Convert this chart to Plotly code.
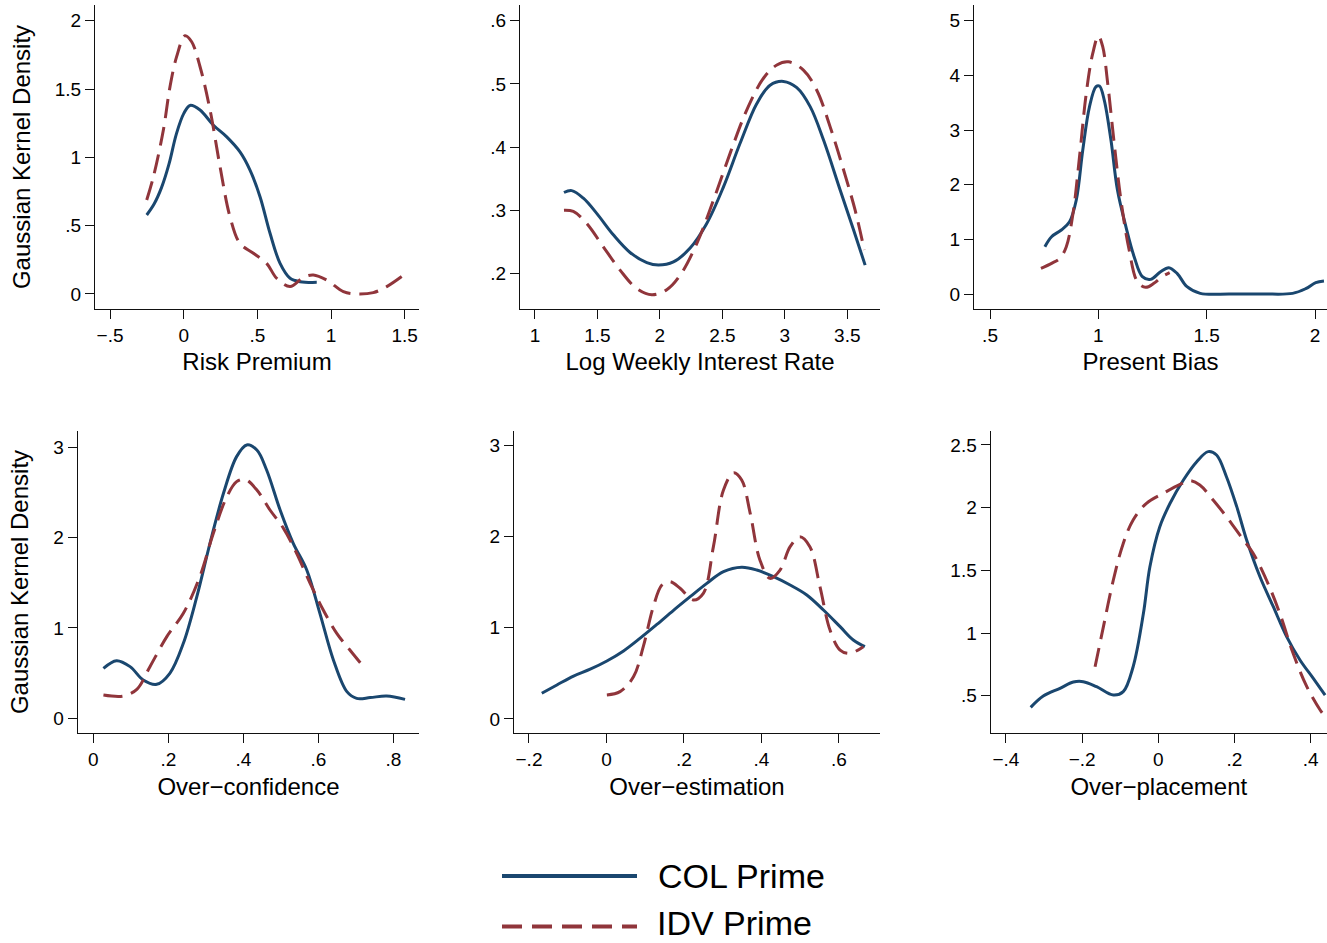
import plotly.graph_objects as go

W, H = 1327, 943
BLUE = "#1a476f"
RED = "#90353b"
FONT = "Liberation Sans, Arial, Helvetica, sans-serif"
AXC = "#111111"

# ---------------- data ----------------
# Risk Premium
rp_col_x = [-0.251, -0.2, -0.15, -0.1, -0.05, 0.0, 0.043, 0.111, 0.2, 0.292, 0.382, 0.45, 0.518, 0.586, 0.654, 0.722, 0.79, 0.903]
rp_col_y = [0.578, 0.66, 0.78, 0.95, 1.17, 1.32, 1.38, 1.346, 1.237, 1.15, 1.04, 0.907, 0.712, 0.444, 0.224, 0.115, 0.09, 0.085]
rp_idv_x = [-0.251, -0.206, -0.138, -0.093, -0.048, 0.009, 0.054, 0.111, 0.179, 0.247, 0.314, 0.382, 0.473, 0.563, 0.631, 0.722, 0.812, 0.88, 0.97, 1.084, 1.174, 1.287, 1.378, 1.491]
rp_idv_y = [0.688, 0.856, 1.2, 1.517, 1.737, 1.89, 1.846, 1.663, 1.346, 0.93, 0.566, 0.37, 0.298, 0.224, 0.115, 0.054, 0.122, 0.139, 0.102, 0.017, 0.0, 0.01, 0.054, 0.137]

# Log Weekly Interest Rate
ir_col_x = [1.232, 1.294, 1.387, 1.494, 1.627, 1.761, 1.895, 1.988, 2.108, 2.242, 2.375, 2.509, 2.642, 2.776, 2.882, 2.989, 3.096, 3.203, 3.31, 3.443, 3.55, 3.643]
ir_col_y = [0.328, 0.331, 0.319, 0.295, 0.261, 0.233, 0.217, 0.213, 0.218, 0.24, 0.279, 0.337, 0.406, 0.469, 0.498, 0.504, 0.494, 0.464, 0.411, 0.332, 0.269, 0.213]
ir_idv_x = [1.232, 1.307, 1.414, 1.547, 1.681, 1.814, 1.935, 2.055, 2.162, 2.295, 2.429, 2.562, 2.696, 2.829, 2.936, 3.029, 3.149, 3.256, 3.363, 3.47, 3.563, 3.636]
ir_idv_y = [0.3, 0.298, 0.279, 0.242, 0.205, 0.176, 0.166, 0.174, 0.197, 0.247, 0.316, 0.39, 0.459, 0.509, 0.53, 0.535, 0.522, 0.49, 0.432, 0.364, 0.3, 0.237]

# Present Bias
pb_col_x = [0.753, 0.784, 0.829, 0.867, 0.898, 0.928, 0.959, 0.989, 1.005, 1.027, 1.058, 1.088, 1.127, 1.165, 1.203, 1.241, 1.287, 1.325, 1.363, 1.409, 1.47, 1.607, 1.759, 1.896, 1.957, 2.003, 2.041]
pb_col_y = [0.866, 1.049, 1.171, 1.323, 1.72, 2.634, 3.427, 3.793, 3.805, 3.549, 2.817, 1.902, 1.232, 0.683, 0.317, 0.268, 0.409, 0.482, 0.378, 0.134, 0.012, 0.0, 0.0, 0.012, 0.098, 0.207, 0.238]
pb_idv_x = [0.735, 0.784, 0.822, 0.852, 0.883, 0.913, 0.944, 0.974, 1.0, 1.02, 1.043, 1.073, 1.104, 1.142, 1.18, 1.218, 1.256, 1.294, 1.329]
pb_idv_y = [0.47, 0.561, 0.652, 0.866, 1.476, 2.512, 3.671, 4.402, 4.72, 4.524, 3.854, 2.756, 1.72, 0.805, 0.226, 0.122, 0.195, 0.317, 0.39]

# Over-confidence
oc_col_x = [0.027, 0.062, 0.098, 0.133, 0.169, 0.204, 0.24, 0.276, 0.311, 0.347, 0.382, 0.409, 0.436, 0.462, 0.498, 0.533, 0.569, 0.604, 0.64, 0.676, 0.702, 0.738, 0.782, 0.831]
oc_col_y = [0.553, 0.638, 0.572, 0.424, 0.376, 0.498, 0.83, 1.347, 1.937, 2.491, 2.897, 3.026, 2.97, 2.749, 2.306, 1.937, 1.642, 1.162, 0.646, 0.295, 0.221, 0.229, 0.247, 0.21]
oc_idv_x = [0.027, 0.08, 0.116, 0.151, 0.196, 0.24, 0.284, 0.32, 0.356, 0.382, 0.404, 0.436, 0.471, 0.507, 0.542, 0.578, 0.613, 0.649, 0.684, 0.72]
oc_idv_y = [0.258, 0.247, 0.321, 0.572, 0.904, 1.162, 1.568, 2.048, 2.454, 2.62, 2.646, 2.528, 2.306, 2.103, 1.827, 1.494, 1.199, 0.941, 0.756, 0.572]

# Over-estimation
oe_col_x = [-0.167, -0.128, -0.085, -0.042, 0.001, 0.044, 0.087, 0.13, 0.173, 0.216, 0.259, 0.302, 0.349, 0.388, 0.431, 0.474, 0.517, 0.56, 0.603, 0.637, 0.667]
oe_col_y = [0.281, 0.372, 0.47, 0.545, 0.635, 0.745, 0.885, 1.035, 1.19, 1.339, 1.485, 1.613, 1.661, 1.631, 1.558, 1.467, 1.358, 1.193, 1.011, 0.865, 0.792]
oe_idv_x = [0.001, 0.035, 0.07, 0.095, 0.121, 0.143, 0.164, 0.19, 0.224, 0.25, 0.276, 0.302, 0.328, 0.349, 0.371, 0.396, 0.422, 0.448, 0.474, 0.499, 0.525, 0.551, 0.577, 0.603, 0.628, 0.663]
oe_idv_y = [0.263, 0.299, 0.464, 0.792, 1.23, 1.467, 1.504, 1.431, 1.303, 1.376, 1.887, 2.507, 2.697, 2.617, 2.252, 1.741, 1.54, 1.631, 1.887, 1.996, 1.887, 1.449, 0.974, 0.755, 0.719, 0.792]

# Over-placement
op_col_x = [-0.335, -0.302, -0.258, -0.223, -0.197, -0.162, -0.118, -0.092, -0.066, -0.039, -0.022, 0.004, 0.031, 0.066, 0.101, 0.131, 0.153, 0.179, 0.206, 0.232, 0.267, 0.302, 0.337, 0.372, 0.407, 0.438]
op_col_y = [0.407, 0.497, 0.559, 0.609, 0.612, 0.572, 0.505, 0.532, 0.731, 1.157, 1.529, 1.848, 2.035, 2.221, 2.367, 2.447, 2.42, 2.247, 2.008, 1.742, 1.449, 1.21, 0.971, 0.785, 0.638, 0.505]
op_idv_x = [-0.166, -0.144, -0.118, -0.092, -0.066, -0.031, 0.013, 0.057, 0.083, 0.109, 0.144, 0.179, 0.214, 0.249, 0.284, 0.319, 0.354, 0.39, 0.425, 0.442]
op_idv_y = [0.731, 1.051, 1.423, 1.715, 1.902, 2.035, 2.114, 2.186, 2.215, 2.181, 2.061, 1.928, 1.782, 1.636, 1.423, 1.157, 0.838, 0.572, 0.386, 0.319]

# tick labels
rp_ticks = [-0.5, 0, 0.5, 1, 1.5]
rp_ticktext = ["\u2212.5", "0", ".5", "1", "1.5"]
rp_yticks = [0, 0.5, 1, 1.5, 2]
rp_yticktext = ["0", ".5", "1", "1.5", "2"]
ir_ticks = [1, 1.5, 2, 2.5, 3, 3.5]
ir_ticktext = ["1", "1.5", "2", "2.5", "3", "3.5"]
ir_yticks = [0.2, 0.3, 0.4, 0.5, 0.6]
ir_yticktext = [".2", ".3", ".4", ".5", ".6"]
pb_ticks = [0.5, 1, 1.5, 2]
pb_ticktext = [".5", "1", "1.5", "2"]
pb_yticks = [0, 1, 2, 3, 4, 5]
pb_yticktext = ["0", "1", "2", "3", "4", "5"]
oc_ticks = [0, 0.2, 0.4, 0.6, 0.8]
oc_ticktext = ["0", ".2", ".4", ".6", ".8"]
oc_yticks = [0, 1, 2, 3]
oc_yticktext = ["0", "1", "2", "3"]
oe_ticks = [-0.2, 0, 0.2, 0.4, 0.6]
oe_ticktext = ["\u2212.2", "0", ".2", ".4", ".6"]
oe_yticks = [0, 1, 2, 3]
oe_yticktext = ["0", "1", "2", "3"]
op_ticks = [-0.4, -0.2, 0, 0.2, 0.4]
op_ticktext = ["\u2212.4", "\u2212.2", "0", ".2", ".4"]
op_yticks = [0.5, 1, 1.5, 2, 2.5]
op_yticktext = [".5", "1", "1.5", "2", "2.5"]

series_names = ["COL Prime", "IDV Prime"]
ytitle = "Gaussian Kernel Density"

# ---------------- layout geometry (pixels) ----------------
panels = [
    dict(px=(95, 419), py=(5, 309), xr=[-0.602, 1.597], yr=[-0.11, 2.115],
         xt=(rp_ticks, rp_ticktext), yt=(rp_yticks, rp_yticktext), title="Risk Premium", ytitle=ytitle,
         col=(rp_col_x, rp_col_y), idv=(rp_idv_x, rp_idv_y)),
    dict(px=(520, 880), py=(5, 309), xr=[0.88, 3.762], yr=[0.1435, 0.625],
         xt=(ir_ticks, ir_ticktext), yt=(ir_yticks, ir_yticktext), title="Log Weekly Interest Rate", ytitle="",
         col=(ir_col_x, ir_col_y), idv=(ir_idv_x, ir_idv_y)),
    dict(px=(974, 1327), py=(5, 309), xr=[0.426, 2.055], yr=[-0.274, 5.287],
         xt=(pb_ticks, pb_ticktext), yt=(pb_yticks, pb_yticktext), title="Present Bias", ytitle="",
         col=(pb_col_x, pb_col_y), idv=(pb_idv_x, pb_idv_y)),
    dict(px=(77.7, 419.3), py=(430.7, 733.3), xr=[-0.0416, 0.869], yr=[-0.166, 3.184],
         xt=(oc_ticks, oc_ticktext), yt=(oc_yticks, oc_yticktext), title="Over\u2212confidence", ytitle=ytitle,
         col=(oc_col_x, oc_col_y), idv=(oc_idv_x, oc_idv_y)),
    dict(px=(514, 880), py=(430.7, 733.3), xr=[-0.2387, 0.706], yr=[-0.157, 3.157],
         xt=(oe_ticks, oe_ticktext), yt=(oe_yticks, oe_yticktext), title="Over\u2212estimation", ytitle="",
         col=(oe_col_x, oe_col_y), idv=(oe_idv_x, oe_idv_y)),
    dict(px=(990.7, 1327), py=(430.7, 733.3), xr=[-0.44, 0.443], yr=[0.2, 2.614],
         xt=(op_ticks, op_ticktext), yt=(op_yticks, op_yticktext), title="Over\u2212placement", ytitle="",
         col=(op_col_x, op_col_y), idv=(op_idv_x, op_idv_y)),
]

fig = go.Figure()
layout = {}
for i, p in enumerate(panels, start=1):
    sfx = "" if i == 1 else str(i)
    xa, ya = "x" + sfx, "y" + sfx
    fig.add_trace(go.Scatter(x=p["col"][0], y=p["col"][1], mode="lines", name=series_names[0],
                             line=dict(color=BLUE, width=3, shape="spline", smoothing=1.0),
                             xaxis=xa, yaxis=ya, showlegend=False))
    fig.add_trace(go.Scatter(x=p["idv"][0], y=p["idv"][1], mode="lines", name=series_names[1],
                             line=dict(color=RED, width=3, dash="19px,9px", shape="spline", smoothing=1.0),
                             xaxis=xa, yaxis=ya, showlegend=False))
    common = dict(showline=True, linecolor=AXC, linewidth=1.3, mirror=False, ticks="outside",
                  ticklen=9, tickwidth=1.3, tickcolor=AXC, showgrid=False, zeroline=False,
                  tickfont=dict(family=FONT, size=19, color="#000"), fixedrange=True)
    layout["xaxis" + sfx] = dict(common, domain=[p["px"][0] / W, p["px"][1] / W], range=p["xr"],
                                 anchor=ya, tickmode="array", tickvals=p["xt"][0], ticktext=p["xt"][1],
                                 title=dict(text=p["title"], font=dict(family=FONT, size=24, color="#000"), standoff=8))
    layout["yaxis" + sfx] = dict(common, domain=[1 - p["py"][1] / H, 1 - p["py"][0] / H], range=p["yr"],
                                 anchor=xa, tickmode="array", tickvals=p["yt"][0], ticktext=p["yt"][1],
                                 tickangle=0,
                                 title=dict(text=p["ytitle"], font=dict(family=FONT, size=24, color="#000"), standoff=17))

# legend (drawn manually to match the long line samples)
shapes = [
    dict(type="line", xref="paper", yref="paper", x0=502 / W, x1=637 / W, y0=1 - 876 / H, y1=1 - 876 / H,
         line=dict(color=BLUE, width=4)),
    dict(type="line", xref="paper", yref="paper", x0=502 / W, x1=637 / W, y0=1 - 926.5 / H, y1=1 - 926.5 / H,
         line=dict(color=RED, width=4, dash="20px,10px")),
]
annotations = [
    dict(text=series_names[0], xref="paper", yref="paper", x=656 / W, y=1 - 876 / H, xanchor="left",
         yanchor="middle", showarrow=False, font=dict(family=FONT, size=34, color="#000")),
    dict(text=series_names[1], xref="paper", yref="paper", x=656 / W, y=0.0, xanchor="left",
         yanchor="bottom", showarrow=False, borderpad=0, font=dict(family=FONT, size=34, color="#000")),
]

fig.update_layout(**layout)
fig.update_layout(width=W, height=H, margin=dict(l=0, r=0, t=0, b=0), paper_bgcolor="white",
                  plot_bgcolor="white", showlegend=False, shapes=shapes, annotations=annotations,
                  font=dict(family=FONT, color="#000"))
fig.write_html("out.html")
